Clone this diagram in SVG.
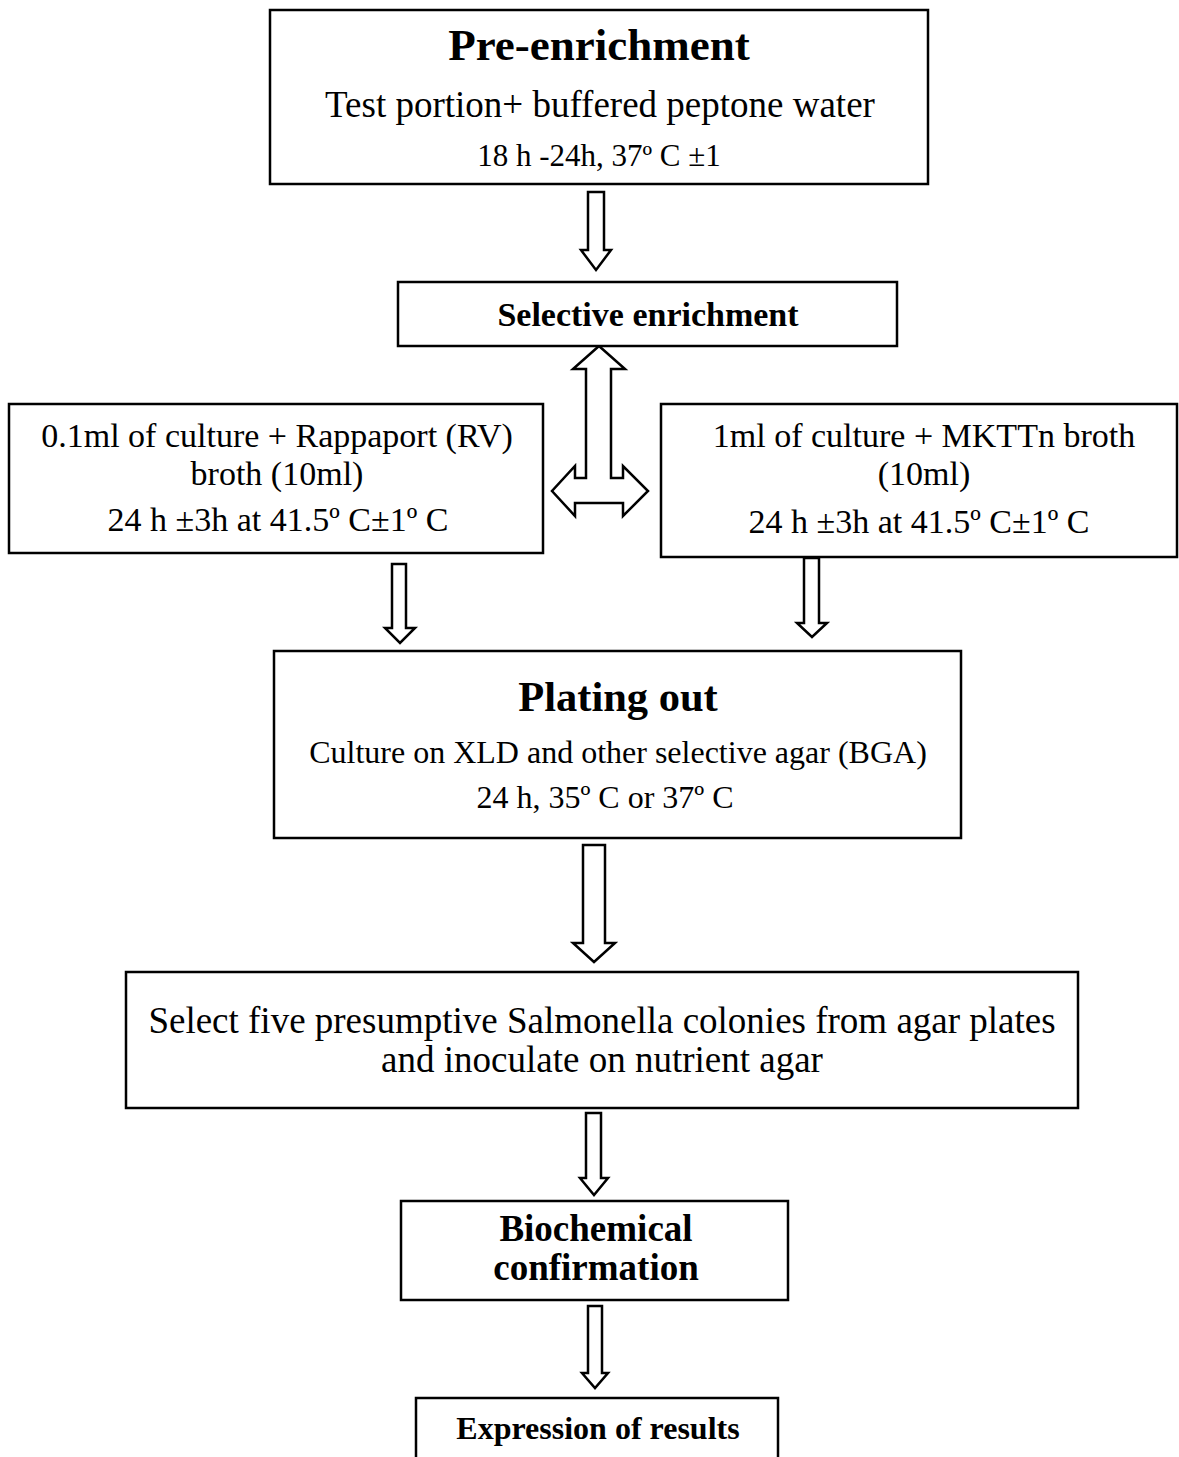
<svg xmlns="http://www.w3.org/2000/svg" width="1179" height="1457" viewBox="0 0 1179 1457">
<style>
.box{fill:#fff;stroke:#000;stroke-width:2.5}
.arr{fill:#fff;stroke:#000;stroke-width:2.5;stroke-linejoin:miter}
text{font-family:"Liberation Serif","Times New Roman",serif;fill:#000;text-anchor:middle}
.b{font-weight:bold}
</style>
<rect width="1179" height="1457" fill="#fff"/>
<g id="connectors">
<polygon class="arr" points="588,192 604,192 604,250 611,250 596,270 581,250 588,250"/>
<polygon class="arr" points="599,346 625,369 611,369 611,478 623,478 623,466 648,491 623,516 623,503 575,503 575,516 552,491 575,466 575,478 586,478 586,369 573,369"/>
<polygon class="arr" points="392,564 406,564 406,628 415,628 400,643 385,628 392,628"/>
<polygon class="arr" points="804,558 819,558 819,623 827,623 812,637 797,623 804,623"/>
<polygon class="arr" points="583,845 605,845 605,943 615,943 594,962 573,943 583,943"/>
<polygon class="arr" points="586,1113 601,1113 601,1178 608,1178 594,1195 580,1178 586,1178"/>
<polygon class="arr" points="588,1306 602,1306 602,1373 608,1373 595,1388 582,1373 588,1373"/>
</g>
<g id="pre-enrichment">
<rect class="box" x="270" y="10" width="658" height="174"/>
<text x="599" y="60" class="b" font-size="45">Pre-enrichment</text>
<text x="600" y="117" font-size="37">Test portion+ buffered peptone water</text>
<text x="599" y="166" font-size="31">18 h -24h, 37º C ±1</text>
</g>
<g id="selective-enrichment">
<rect class="box" x="398" y="282" width="499" height="64"/>
<text x="648" y="326" class="b" font-size="34">Selective enrichment</text>
</g>
<g id="rv-broth">
<rect class="box" x="9" y="404" width="534" height="149"/>
<text x="277" y="447" font-size="34">0.1ml of culture + Rappaport (RV)</text>
<text x="277" y="485" font-size="34">broth (10ml)</text>
<text x="278" y="531" font-size="34">24 h ±3h at 41.5º C±1º C</text>
</g>
<g id="mkttn-broth">
<rect class="box" x="661" y="404" width="516" height="153"/>
<text x="924" y="447" font-size="34">1ml of culture + MKTTn broth</text>
<text x="924" y="485" font-size="34">(10ml)</text>
<text x="919" y="533" font-size="34">24 h ±3h at 41.5º C±1º C</text>
</g>
<g id="plating-out">
<rect class="box" x="274" y="651" width="687" height="187"/>
<text x="618" y="711" class="b" font-size="42.5">Plating out</text>
<text x="618" y="763" font-size="32">Culture on XLD and other selective agar (BGA)</text>
<text x="605" y="808" font-size="32">24 h, 35º C or 37º C</text>
</g>
<g id="select-colonies">
<rect class="box" x="126" y="972" width="952" height="136"/>
<text x="602" y="1033" font-size="37">Select five presumptive Salmonella colonies from agar plates</text>
<text x="602" y="1072" font-size="37">and inoculate on nutrient agar</text>
</g>
<g id="biochemical">
<rect class="box" x="401" y="1201" width="387" height="99"/>
<text x="596" y="1241" class="b" font-size="37">Biochemical</text>
<text x="596" y="1280" class="b" font-size="37">confirmation</text>
</g>
<g id="expression">
<rect class="box" x="416" y="1398" width="362" height="80"/>
<text x="598" y="1439" class="b" font-size="32">Expression of results</text>
</g>
</svg>
